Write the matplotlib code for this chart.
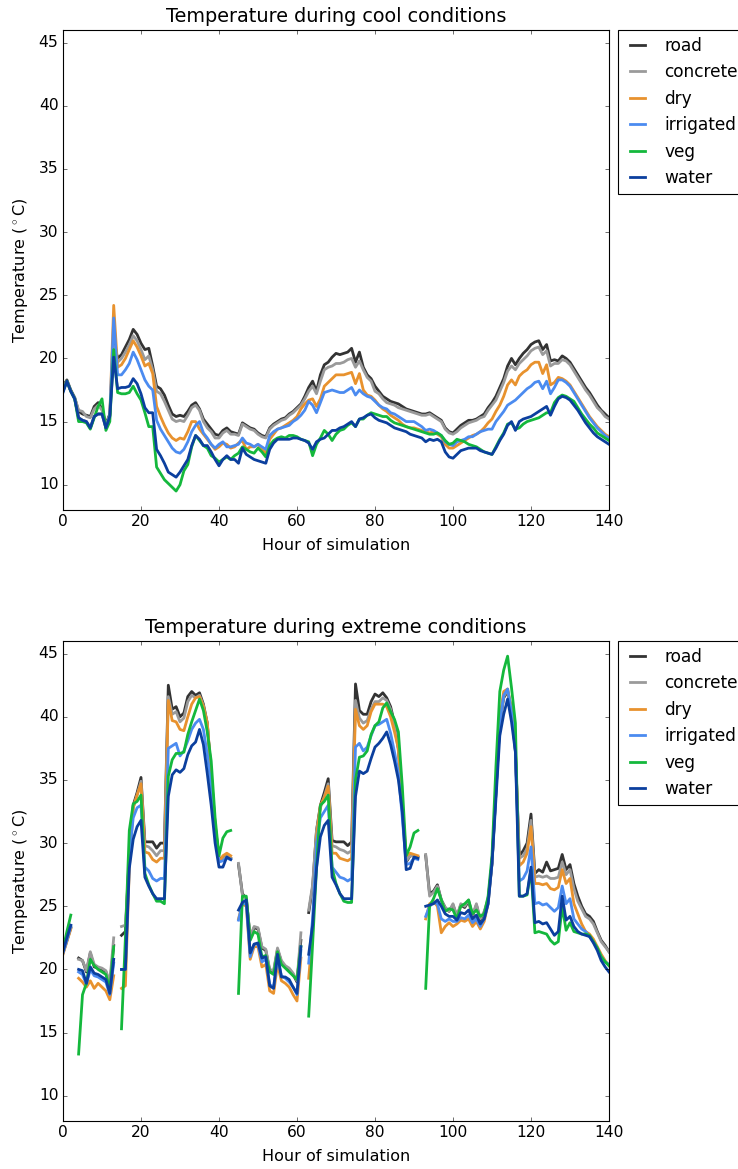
import numpy as np
import matplotlib
matplotlib.use('Agg')
import matplotlib.pyplot as plt

nan = np.nan
hours = np.arange(0, 141)
surfaces = ['road', 'concrete', 'dry', 'irrigated', 'veg', 'water']
colors = ['#333333', '#9a9a9a', '#e8922e', '#4b8bf0', '#14b83c', '#0b3f9e']

# ---- cool conditions (hourly) ----
cool_road = [17.8, 18.3, 17.5, 16.9, 15.8, 15.6, 15.5, 15.4, 16.2, 16.5, 16.0, 14.8, 15.6,
             21.5, 20.0, 20.3, 20.9, 21.5, 22.3, 21.9, 21.2, 20.7, 20.8, 19.4, 17.8, 17.6, 17.1, 16.3, 15.6, 15.4,
             15.5, 15.4, 15.8, 16.3, 16.5, 16.0, 15.2, 14.8, 14.4, 14.0, 13.9, 14.3, 14.5, 14.2, 14.1, 14.0, 14.9, 14.7, 14.5,
             14.4, 14.1, 13.9, 13.8, 14.5, 14.8, 15.0, 15.2, 15.3, 15.6, 15.8, 16.1, 16.4, 17.0, 17.7, 18.2, 17.4, 18.7, 19.5, 19.7,
             20.1, 20.4, 20.3, 20.4, 20.5, 20.8, 19.7, 20.5, 19.3, 18.7, 18.4, 17.8, 17.4, 17.0, 16.8, 16.6, 16.5, 16.4, 16.2, 16.0,
             15.9, 15.8, 15.7, 15.6, 15.6, 15.7, 15.5, 15.3, 15.1, 14.5, 14.2, 14.1, 14.4, 14.7, 14.9, 15.1, 15.1, 15.2, 15.4, 15.6,
             16.1, 16.5, 17.0, 17.7, 18.4, 19.4, 20.0, 19.5, 20.0, 20.4, 20.7, 21.1, 21.3, 21.4, 20.7, 21.1, 19.8, 19.9, 19.8, 20.2,
             20.0, 19.7, 19.2, 18.7, 18.2, 17.7, 17.3, 16.8, 16.3, 15.9, 15.6, 15.3]
cool_concrete = [17.7, 18.2, 17.4, 16.9, 15.9, 15.8, 15.4, 15.3, 16.0, 16.3, 15.9, 14.7, 15.5,
                 21.0, 19.7, 20.0, 20.5, 21.1, 21.8, 21.4, 20.7, 19.9, 20.2, 19.1, 17.4, 17.2, 16.6, 15.9, 15.2, 15.0,
                 15.1, 15.0, 15.5, 16.1, 16.3, 15.9, 15.0, 14.5, 14.2, 13.7, 13.7, 14.1, 14.3, 14.0, 14.0, 13.9, 14.8, 14.6, 14.4,
                 14.3, 14.0, 13.8, 13.7, 14.4, 14.7, 14.9, 15.1, 15.2, 15.5, 15.7, 16.0, 16.3, 16.8, 17.4, 17.8, 17.2, 18.2, 19.1, 19.3,
                 19.4, 19.6, 19.6, 19.7, 19.9, 20.0, 19.3, 19.8, 19.1, 18.5, 18.2, 17.4, 17.2, 16.8, 16.5, 16.4, 16.3, 16.1, 16.0, 15.9,
                 15.8, 15.7, 15.6, 15.5, 15.5, 15.6, 15.4, 15.2, 15.0, 14.4, 14.1, 14.0, 14.2, 14.5, 14.7, 14.9, 15.0, 15.1, 15.3, 15.4,
                 15.9, 16.3, 16.7, 17.4, 18.1, 19.0, 19.4, 19.1, 19.6, 19.9, 20.2, 20.6, 20.8, 20.9, 20.3, 20.6, 19.4, 19.6, 19.6, 19.9,
                 19.8, 19.5, 19.0, 18.5, 18.0, 17.5, 17.1, 16.6, 16.1, 15.8, 15.4, 15.2]
cool_dry = [17.5, 18.2, 17.4, 16.8, 15.3, 15.1, 15.0, 14.5, 15.4, 15.6, 15.6, 14.5, 15.5,
            24.2, 19.3, 19.5, 20.0, 20.7, 21.4, 20.9, 20.2, 19.4, 19.6, 18.8, 16.2, 15.4, 14.7, 14.1, 13.7, 13.5,
            13.7, 13.6, 14.2, 15.0, 15.0, 14.4, 14.0, 13.6, 13.2, 12.8, 13.0, 13.3, 13.2, 12.9, 13.0, 13.3, 13.5, 12.8, 13.0,
            13.0, 13.2, 12.8, 12.5, 13.6, 14.0, 14.4, 14.5, 14.7, 14.9, 15.1, 15.4, 16.0, 16.4, 16.7, 16.8, 16.2, 16.8, 17.8, 18.1,
            18.4, 18.7, 18.7, 18.7, 18.8, 18.9, 18.0, 18.8, 17.5, 17.1, 17.0, 16.7, 16.3, 16.0, 15.8, 15.5, 15.3, 15.1, 14.8, 14.6,
            14.5, 14.5, 14.4, 14.3, 14.2, 14.1, 14.2, 14.0, 13.8, 13.2, 12.9, 12.9, 13.1, 13.3, 13.5, 13.7, 13.9, 14.0, 14.2, 14.5,
            14.9, 15.2, 15.8, 16.3, 17.0, 17.9, 18.3, 17.9, 18.6, 18.9, 19.1, 19.5, 19.7, 19.7, 18.8, 19.5, 17.9, 18.1, 18.5, 18.4,
            18.2, 17.9, 17.4, 16.9, 16.4, 15.9, 15.4, 15.0, 14.6, 14.3, 14.0, 13.8]
cool_irrigated = [17.4, 18.2, 17.4, 16.8, 15.3, 15.1, 15.0, 14.5, 15.4, 15.6, 15.6, 14.5, 15.5,
                  23.2, 18.7, 18.7, 19.1, 19.6, 20.5, 19.9, 19.1, 18.3, 17.8, 17.5, 15.1, 14.4, 13.9, 13.4, 12.9, 12.6,
                  12.5, 12.8, 13.4, 14.2, 14.7, 15.0, 14.1, 13.7, 13.2, 12.9, 13.2, 13.4, 13.0, 13.0, 13.1, 13.2, 13.7, 13.3, 13.2,
                  13.0, 13.2, 13.0, 12.8, 13.9, 14.2, 14.4, 14.5, 14.6, 14.7, 15.0, 15.2, 15.5, 15.9, 16.6, 16.3, 15.7, 16.5, 17.3, 17.4,
                  17.5, 17.4, 17.3, 17.3, 17.5, 17.7, 17.1, 17.5, 17.2, 17.0, 16.9, 16.6, 16.3, 16.1, 16.0, 15.7, 15.6, 15.4, 15.2, 15.0,
                  15.0, 15.0, 14.8, 14.6, 14.3, 14.4, 14.3, 14.1, 13.9, 13.4, 13.2, 13.1, 13.4, 13.5, 13.6, 13.8, 13.8, 14.0, 14.2, 14.3,
                  14.4, 14.4, 15.0, 15.4, 15.8, 16.3, 16.5, 16.7, 17.0, 17.3, 17.6, 17.8, 18.1, 18.2, 17.6, 18.2, 17.2, 17.7, 18.3, 18.3,
                  18.1, 17.8, 17.3, 16.8, 16.3, 15.8, 15.3, 14.9, 14.5, 14.2, 13.9, 13.7]
cool_veg = [17.4, 18.2, 17.4, 16.8, 15.0, 15.0, 14.9, 14.4, 15.3, 16.2, 16.8, 14.3, 15.0,
            20.7, 17.3, 17.2, 17.2, 17.3, 17.8, 17.2, 16.7, 15.7, 14.6, 14.6, 11.4, 10.9, 10.4, 10.1, 9.8, 9.5,
            10.0, 11.1, 11.6, 13.0, 13.9, 13.5, 13.1, 12.9, 12.3, 12.1, 11.8, 12.0, 12.2, 12.0, 12.3, 12.5, 13.0, 12.8, 12.6,
            12.5, 12.9, 12.6, 12.2, 13.1, 13.5, 13.7, 13.8, 13.7, 13.9, 13.9, 13.8, 13.6, 13.5, 13.4, 12.3, 13.2, 13.7, 14.3, 14.0,
            13.5, 14.0, 14.3, 14.4, 14.7, 14.9, 14.6, 15.2, 15.2, 15.5, 15.7, 15.6, 15.5, 15.4, 15.4, 15.1, 14.9, 14.8, 14.7, 14.6,
            14.5, 14.4, 14.3, 14.2, 14.1, 14.0, 14.0, 14.1, 13.9, 13.5, 13.2, 13.3, 13.6, 13.5, 13.4, 13.2, 13.1, 13.0, 12.8, 12.6,
            12.5, 12.4, 13.0, 13.6, 14.1, 14.8, 14.9, 14.4, 14.5, 14.8, 15.0, 15.1, 15.2, 15.3, 15.5, 15.7, 15.7, 16.5, 16.9, 17.1,
            17.0, 16.8, 16.6, 16.1, 15.6, 15.2, 14.8, 14.5, 14.1, 13.9, 13.7, 13.5]
cool_water = [17.3, 18.2, 17.4, 16.8, 15.3, 15.1, 15.0, 14.5, 15.4, 15.6, 15.6, 14.5, 15.4,
              20.1, 17.6, 17.7, 17.7, 17.8, 18.4, 18.0, 17.2, 16.1, 15.7, 15.7, 12.8, 12.3, 11.7, 11.0, 10.8, 10.6,
              11.0, 11.5, 12.0, 13.1, 13.9, 13.6, 13.1, 13.1, 12.6, 12.0, 11.5, 12.0, 12.3, 12.0, 12.0, 11.7, 12.9, 12.4, 12.2,
              12.0, 11.9, 11.8, 11.7, 12.8, 13.3, 13.6, 13.6, 13.6, 13.6, 13.7, 13.7, 13.6, 13.5, 13.3, 12.8, 13.4, 13.6, 13.7, 14.0,
              14.3, 14.3, 14.5, 14.6, 14.8, 15.0, 14.6, 15.2, 15.3, 15.5, 15.6, 15.3, 15.1, 15.0, 14.9, 14.7, 14.5, 14.4, 14.3, 14.2,
              14.0, 13.9, 13.8, 13.7, 13.4, 13.6, 13.5, 13.6, 13.4, 12.6, 12.2, 12.1, 12.4, 12.7, 12.8, 12.9, 12.9, 12.9, 12.7, 12.6,
              12.5, 12.4, 12.9, 13.5, 14.0, 14.7, 15.0, 14.3, 15.0, 15.2, 15.3, 15.4, 15.6, 15.8, 16.0, 16.2, 15.5, 16.2, 16.8, 17.0,
              16.9, 16.7, 16.3, 15.9, 15.4, 14.9, 14.5, 14.1, 13.8, 13.6, 13.4, 13.2]

# ---- extreme conditions (hourly, nan = missing) ----
ext_road = [21.3, 22.3, 23.3, nan,
            20.9, 20.7, 19.8, 21.3, 20.2, 20.1, 20.0, 19.8, 18.8, 21.9, nan,
            22.7, 23.0, 29.0, 33.0, 34.0, 35.2, 30.1, 30.1, 30.1, 29.6, 30.0, 30.0,
            42.5, 40.6, 40.8, 40.0, 40.3, 41.6, 42.0, 41.7, 41.9, 41.0, 39.5, 35.5, 31.5, 28.8, 28.8, 29.0, 28.8, nan,
            28.3, 26.0, 25.6, 22.5, 23.3, 23.2, 21.7, 21.5, 19.9, 19.8, 21.6, 20.6, 20.2, 20.0, 19.6, 19.0, 22.3, nan,
            24.5, 26.5, 31.0, 33.0, 34.0, 35.1, 30.2, 30.1, 30.1, 30.1, 29.8, 30.1,
            42.6, 40.5, 40.2, 40.2, 41.2, 41.8, 41.6, 41.9, 41.5, 40.8, 39.5, 37.5, 33.0, 28.5, 29.0, 29.0, 28.9, nan,
            29.0, 26.0, 26.2, 26.7, 25.5, 24.9, 24.6, 25.1, 24.2, 25.1, 24.9, 25.4, 24.2, 25.1, 23.9, 24.5, 25.5,
            28.4, 34.0, 39.5, 41.5, 42.0, 40.5, 37.3, 29.0, 29.4, 30.0, 32.3, 27.6, 27.9, 27.7, 28.5, 27.8, 27.9,
            28.0, 29.1, 27.9, 28.3, 26.8, 25.8, 25.0, 24.4, 24.2, 23.8, 23.0, 22.3, 21.9, 21.4]
ext_concrete = [21.3, 22.3, 23.3, nan,
                20.8, 20.7, 19.9, 21.4, 20.4, 20.2, 20.1, 19.9, 19.0, 22.5, nan,
                23.4, 23.5, 29.0, 32.8, 33.8, 34.9, 29.8, 29.7, 29.4, 29.0, 29.4, 29.4,
                41.6, 40.2, 40.4, 39.6, 39.9, 41.2, 41.7, 41.5, 41.7, 40.9, 39.4, 35.4, 31.3, 28.7, 28.7, 29.0, 28.8, nan,
                28.4, 25.9, 25.6, 22.6, 23.4, 23.3, 21.8, 21.6, 20.0, 19.9, 21.7, 20.7, 20.3, 20.1, 19.7, 19.1, 22.9, nan,
                24.7, 26.7, 31.0, 32.8, 33.7, 34.7, 29.8, 29.7, 29.5, 29.4, 29.2, 29.4,
                41.3, 39.9, 39.5, 39.7, 40.6, 41.2, 41.2, 41.5, 41.3, 40.6, 39.3, 37.3, 33.0, 28.6, 29.0, 29.0, 28.9, nan,
                29.1, 25.8, 26.1, 26.6, 25.5, 24.9, 24.6, 25.2, 24.2, 25.2, 25.0, 25.5, 24.3, 25.2, 24.0, 24.6, 25.6,
                28.5, 34.0, 39.5, 41.6, 42.1, 40.6, 37.4, 28.8, 29.0, 29.6, 31.8, 27.3, 27.4, 27.3, 27.4, 27.2, 27.2,
                27.3, 28.5, 27.5, 27.9, 26.4, 25.4, 24.8, 24.2, 24.0, 23.6, 22.9, 22.2, 21.8, 21.4]
ext_dry = [21.2, 22.2, 23.2, nan,
           19.3, 19.0, 18.6, 19.1, 18.5, 18.9, 18.6, 18.3, 17.6, 19.5, nan,
           18.5, 18.7, 28.0, 32.8, 33.8, 34.7, 29.3, 29.2, 28.7, 28.5, 28.8, 28.8,
           41.3, 39.7, 39.6, 39.0, 38.9, 40.0, 41.0, 41.5, 41.6, 40.8, 39.5, 35.5, 31.0, 28.5, 29.0, 29.2, 29.0, nan,
           24.0, 25.2, 25.0, 20.8, 21.8, 21.8, 20.2, 20.4, 18.3, 18.1, 20.4, 19.1, 18.9, 18.6, 18.0, 17.5, 20.9, nan,
           19.3, 23.0, 30.5, 33.0, 33.6, 34.5, 29.2, 29.2, 28.8, 28.7, 28.6, 28.8,
           40.6, 39.3, 39.0, 39.3, 40.4, 41.0, 41.0, 41.0, 40.8, 40.0, 38.8, 37.5, 33.0, 29.0, 29.2, 29.1, 29.0, nan,
           24.0, 25.2, 25.4, 25.0, 22.9, 23.4, 23.7, 23.4, 23.6, 23.9, 23.8, 24.0, 23.4, 23.8, 23.2, 23.8, 25.2,
           28.4, 34.5, 40.0, 42.0, 42.2, 40.6, 37.5, 28.2, 28.5, 29.2, 31.3, 26.8, 26.8, 26.7, 26.8, 26.4, 26.3,
           26.5, 27.9, 26.8, 27.2, 25.2, 24.4, 23.6, 23.0, 22.8, 22.4, 21.8, 21.2, 20.7, 20.3]
ext_irrigated = [21.3, 22.3, 23.4, nan,
                 19.8, 19.6, 18.8, 20.0, 19.5, 19.4, 19.2, 19.0, 18.0, 20.5, nan,
                 20.0, 20.0, 29.0, 32.0, 32.8, 33.0, 28.1, 27.8, 27.2, 27.0, 27.2, 27.2,
                 37.5, 37.7, 37.9, 36.9, 37.3, 38.1, 39.0, 39.5, 39.8, 39.0, 37.0, 34.5, 31.0, 28.5, 28.6, 28.8, 28.7, nan,
                 23.9, 25.2, 25.2, 21.0, 22.0, 22.0, 20.6, 20.8, 18.8, 18.6, 20.9, 19.5, 19.3, 19.0, 18.6, 18.0, 21.5, nan,
                 20.5, 24.0, 30.0, 32.0, 32.5, 33.0, 28.1, 27.7, 27.3, 27.2, 27.0, 27.2,
                 37.6, 37.9, 37.3, 37.6, 38.5, 39.3, 39.4, 39.6, 39.8, 38.7, 37.2, 35.5, 32.0, 28.3, 28.4, 28.8, 28.7, nan,
                 24.2, 25.0, 25.3, 25.2, 24.0, 23.8, 24.0, 23.8, 23.8, 24.1, 24.0, 24.3, 23.7, 24.0, 23.4, 24.0, 25.2,
                 28.4, 34.0, 39.6, 41.7, 42.2, 40.4, 37.3, 27.0, 27.2, 27.8, 29.7, 25.2, 25.3, 25.1, 25.2, 24.9, 24.6,
                 24.9, 26.6, 25.2, 25.6, 24.0, 23.6, 23.2, 23.0, 22.6, 22.2, 21.7, 21.0, 20.6, 20.4]
ext_veg = [21.6, 23.0, 24.3, nan,
           13.3, 18.0, 18.9, 20.8, 20.3, 20.0, 19.8, 19.6, 18.4, 21.8, nan,
           15.3, 22.5, 31.0, 33.1, 33.3, 33.8, 27.6, 26.7, 26.0, 25.4, 25.4, 25.2,
           35.3, 36.6, 37.1, 37.1, 37.2, 38.6, 39.6, 40.5, 41.4, 40.5, 38.8, 36.5, 32.0, 29.0, 30.4, 30.9, 31.0, nan,
           18.1, 25.8, 25.8, 22.3, 23.0, 22.8, 21.0, 21.1, 19.8, 19.6, 21.4, 20.4, 20.1, 19.8, 19.5, 19.2, 21.8, nan,
           16.3, 22.0, 28.0, 33.0, 33.3, 33.8, 28.0, 26.8, 26.0, 25.4, 25.3, 25.3,
           35.0, 36.8, 36.9, 37.3, 38.6, 39.3, 39.6, 40.7, 41.1, 40.4, 39.8, 38.8, 34.5, 29.0, 29.7, 30.8, 31.0, nan,
           18.5, 25.0, 25.6, 26.4, 25.5, 24.6, 24.8, 24.7, 24.0, 25.0, 25.2, 25.5, 24.4, 24.7, 24.2, 24.4, 25.8,
           29.0, 36.0, 42.0, 43.7, 44.8, 42.3, 39.5, 25.8, 25.8, 25.9, 27.9, 22.9, 23.0, 22.9, 22.8, 22.3, 22.0,
           22.2, 25.0, 23.1, 23.7, 23.0, 22.9, 22.8, 22.8, 22.7, 22.2, 21.7, 21.0, 20.6, 20.3]
ext_water = [21.4, 22.5, 23.5, nan,
             20.0, 19.9, 18.9, 20.2, 19.7, 19.6, 19.4, 19.2, 18.1, 20.8, nan,
             20.0, 20.0, 28.0, 30.3, 31.3, 31.8, 27.3, 26.6, 26.0, 25.6, 25.6, 25.6,
             33.7, 35.4, 35.8, 35.6, 35.9, 37.0, 37.7, 38.0, 39.0, 37.8, 35.5, 33.0, 30.0, 28.1, 28.1, 28.9, 28.7, nan,
             24.7, 25.3, 25.5, 21.3, 22.0, 22.1, 20.9, 21.0, 18.7, 18.5, 21.2, 19.4, 19.4, 19.2, 18.6, 18.1, 21.8, nan,
             21.2, 23.5, 28.0, 30.5, 31.4, 31.8, 27.3, 26.7, 26.0, 25.6, 25.6, 25.6,
             33.7, 35.7, 35.5, 35.7, 36.7, 37.6, 37.9, 38.3, 38.8, 37.8, 36.5, 35.0, 32.5, 27.9, 28.0, 28.9, 28.8, nan,
             25.0, 25.1, 25.2, 25.5, 25.0, 24.4, 24.2, 24.2, 23.9, 24.5, 24.4, 24.7, 24.0, 24.3, 23.6, 24.0, 25.2,
             28.4, 33.5, 38.5, 40.2, 41.4, 39.6, 37.2, 25.8, 25.8, 26.0, 28.1, 23.7, 23.8, 23.6, 23.7, 23.2, 22.7,
             23.0, 25.8, 23.9, 24.2, 23.4, 23.0, 22.8, 22.7, 22.6, 22.1, 21.5, 20.7, 20.2, 19.8]

cool = [cool_road, cool_concrete, cool_dry, cool_irrigated, cool_veg, cool_water]
extreme = [ext_road, ext_concrete, ext_dry, ext_irrigated, ext_veg, ext_water]

plt.style.use('classic')
plt.rcParams['font.family'] = ['DejaVu Sans']
plt.rcParams['xtick.labelsize'] = 14
plt.rcParams['ytick.labelsize'] = 14
plt.rcParams['axes.labelsize'] = 14.4

W, H = 738, 1169
fig = plt.figure(figsize=(W / 80, H / 80), dpi=80, facecolor='white')

panels = [
    (cool, 'Temperature during cool conditions', [63 / W, 1 - 510 / H, 546 / W, 480 / H]),
    (extreme, 'Temperature during extreme conditions', [63 / W, 1 - 1121 / H, 546 / W, 480 / H]),
]

for data, title, rect in panels:
    ax = fig.add_axes(rect)
    for name, col, vals in zip(surfaces, colors, data):
        vals = np.array(vals, dtype=float)
        assert len(vals) == len(hours), (name, len(vals))
        ax.plot(hours, vals, color=col, lw=2.5, label=name)
    ax.set_xlim(0, 140)
    ax.set_ylim(8, 46)
    ax.set_xticks(np.arange(0, 141, 20))
    ax.set_yticks(np.arange(10, 46, 5))
    ax.set_xlabel('Hour of simulation', labelpad=8)
    ax.set_ylabel(r'Temperature ($^\circ$C)', labelpad=8)
    ax.set_title(title, fontsize=17.3, y=1.005)
    ax.legend(loc='upper left', bbox_to_anchor=(1.017, 1.0), borderaxespad=0,
              fontsize=15.25, handlelength=1.5)

fig.savefig('out.png', dpi=80, facecolor='white')
